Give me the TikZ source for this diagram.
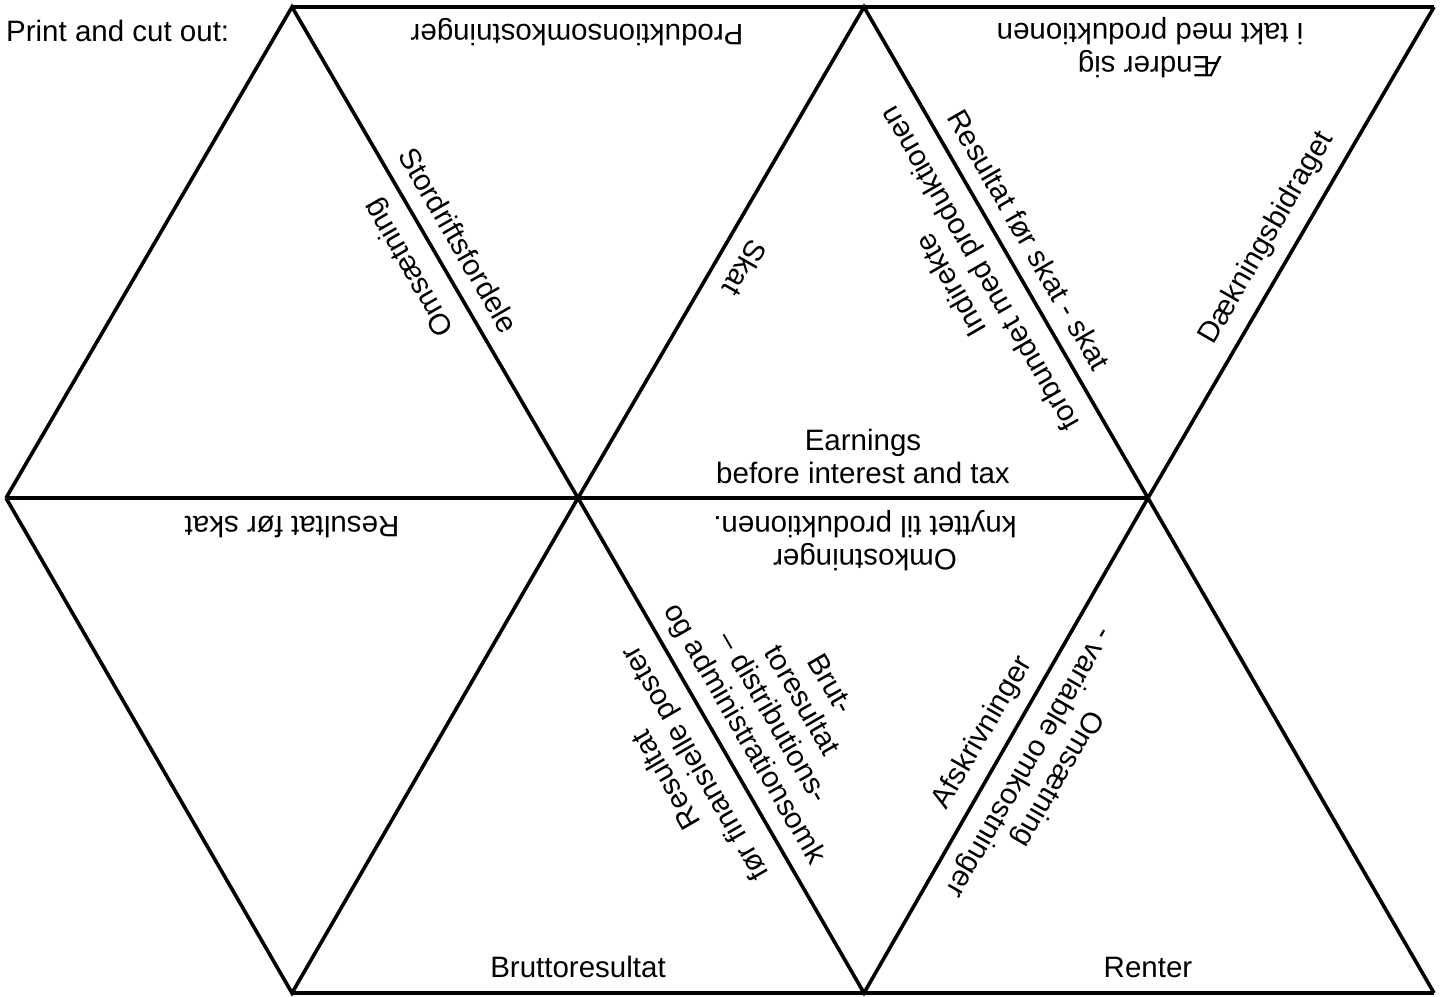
\documentclass[tikz,border=0pt]{standalone}
\usepackage{fontspec}
\setmainfont{Liberation Sans}
\begin{document}
\begin{tikzpicture}[x=1pt,y=-1pt,
  edge/.style={line width=3.6pt,line join=miter,line cap=butt},
  lbl/.style={inner sep=0pt,align=center,font=\fontsize{29.5}{33}\selectfont}]
\useasboundingbox (0,0) rectangle (1445,996);
% vertices
\coordinate (T1) at (292,7);
\coordinate (T2) at (864,7);
\coordinate (T3) at (1434,7);
\coordinate (M0) at (6,498);
\coordinate (M1) at (578,498);
\coordinate (M2) at (1148,498);
\coordinate (B1) at (292,993);
\coordinate (B2) at (864,993);
\coordinate (B3) at (1434,993);
% edges
\draw[edge] (T1) -- (T3);
\draw[edge] (M0) -- (M2);
\draw[edge] (B1) -- (B3);
\draw[edge] (M0) -- (T1) -- (M1) -- (T2) -- (M2) -- (T3);
\draw[edge] (M0) -- (B1) -- (M1) -- (B2) -- (M2) -- (B3);
% labels
\node[lbl,anchor=west] (title) at (6,31) {Print and cut out:};
\node[lbl,rotate=180] (prod) at (577,32) {Produktionsomkostninger};
\node[lbl,rotate=-60] (stor) at (459,240) {Stordriftsfordele};
\node[lbl,rotate=120] (oms1) at (410,267) {Omsætning};
\node[lbl,rotate=240] (skat) at (745,268) {Skat};
\node[lbl,rotate=-60] (rfss) at (1029,240) {Resultat før skat - skat};
\node[lbl,rotate=120] (indi) at (967,276) {Indirekte\\forbundet med produktionen};
\node[lbl,rotate=180] (aend) at (1150,48) {Ændrer sig\\i takt med produktionen};
\node[lbl,rotate=60] (daek) at (1267,238) {Dækningsbidraget};
\node[lbl] (ebit) at (863,456) {Earnings\\before interest and tax};
\node[lbl,rotate=180] (omko) at (865,541) {Omkostninger\\knyttet til produktionen.};
\node[lbl,rotate=180] (rfs) at (292,527) {Resultat før skat};
\node[lbl,rotate=-60] (brut) at (786,710) {Brut-\\toresultat\\– distributions-\\og administrationsomk};
\node[lbl,rotate=120] (rffp) at (682,771) {Resultat\\før finansielle poster};
\node[lbl,rotate=60] (afsk) at (983,733) {Afskrivninger};
\node[lbl,rotate=240] (oms2) at (1043,770) {Omsætning\\- variable omkostninger};
\node[lbl] (brres) at (578,967) {Bruttoresultat};
\node[lbl] (rent) at (1148,967) {Renter};
\end{tikzpicture}
\end{document}
